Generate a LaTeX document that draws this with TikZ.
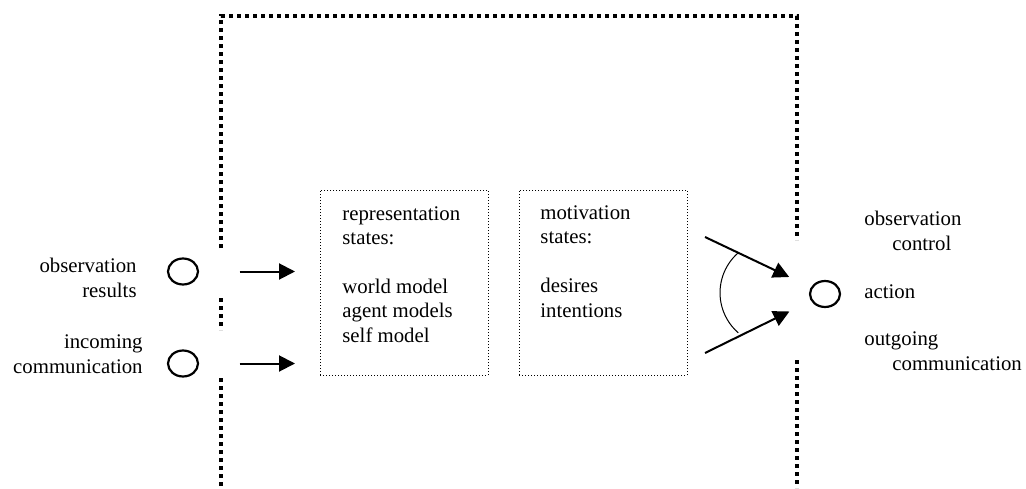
\documentclass[tikz,border=0pt]{standalone}
\usepackage{fontspec}
\setmainfont{Liberation Serif}
\usetikzlibrary{positioning,shapes.geometric,arrows.meta,calc}

\begin{document}
\begin{tikzpicture}[x=1pt, y=1pt, node distance={15pt},
	port/.style = {draw, ellipse, line width=1.1pt, minimum width=15pt, minimum height=13pt, inner sep=0pt},
	store/.style = {draw, line width=0.5pt, dash pattern=on 0.5pt off 1pt, minimum width=84pt, minimum height=92.5pt},
	txt/.style = {inner sep=0pt, align=left, font=\fontsize{10.4}{12.2}\selectfont},
	wall/.style = {line width=2pt, dash pattern=on 2pt off 2pt},
	flow/.style = {line width=1pt, -{Triangle[length=8pt,width=8pt]}}]
	\useasboundingbox (0,0) rectangle (513,244);
	\draw[wall] (110.5,120) -- (110.5,236) -- (398.5,236) -- (398.5,124);
	\draw[wall] (110.5,95) -- (110.5,79);
	\draw[wall] (110.5,55) -- (110.5,0);
	\draw[wall] (398.5,64) -- (398.5,0);
	\node[port] (in1) at (91.5,108.25) {};
	\node[port] (in2) at (91.5,62.25) {};
	\node[port] (out) at (412.5,97) {};
	\node[txt, align=right, anchor=base east] (obs) at (68.5,95.5) {observation\\results};
	\node[txt, align=right, anchor=base east] (inc) at (71.5,57.5) {incoming\\communication};
	\node[txt, anchor=base west] (ctrl) at (432,119) {observation\\\hspace*{14pt}control};
	\node[txt, anchor=base west] (act) at (432,95) {action};
	\node[txt, anchor=base west] (outg) at (432,59) {outgoing\\\hspace*{14pt}communication};
	\node[store] (rep) at (202,102.75) {};
	\node[store] [right=of rep] (mot) {};
	\node[txt, anchor=base west] (reptxt) at (171,73) {representation\\states:\\[12.2pt]world model\\agent models\\self model};
	\node[txt, anchor=base west] (mottxt) at (270,85.5) {motivation\\states:\\[12.2pt]desires\\intentions};
	\draw[flow, shorten <=20.25pt, shorten >=12.25pt] (in1) -- (in1 -| rep.west);
	\draw[flow, shorten <=20.25pt, shorten >=12.25pt] (in2) -- (in2 -| rep.west);
	\coordinate (m1) at (352.5,125.5);
	\coordinate (m2) at (352.5,67.5);
	\draw[flow, shorten >=12pt] (m1) -- (out);
	\draw[flow, shorten >=12pt] (m2) -- (out);
	\draw[line width=0.5pt] ($(m1)!0.277!(out)$) arc[start angle=131, end angle=229, radius=26.5];
\end{tikzpicture}
\end{document}
